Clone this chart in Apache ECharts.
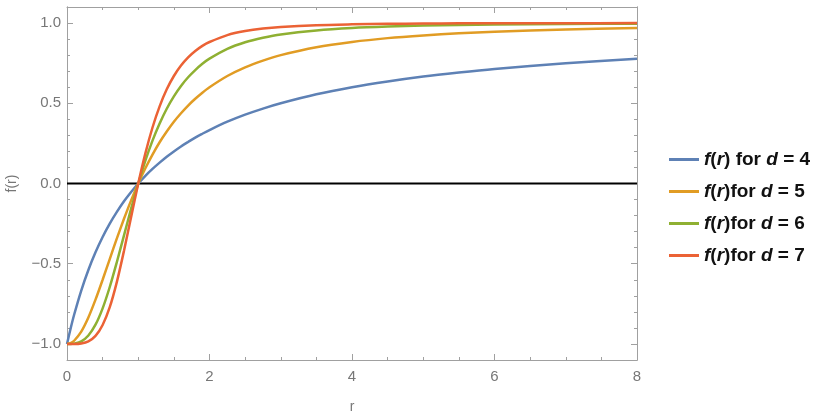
<!DOCTYPE html>
<html>
<head>
<meta charset="utf-8">
<script src="https://cdn.jsdelivr.net/npm/echarts@6/dist/echarts.min.js"></script>
<style>
html, body { margin: 0; padding: 0; background: #fff; }
#chart { width: 830px; height: 418px; }
</style>
</head>
<body>
<div id="chart"></div>
<script>
// r sample points
var rValues = [0, 0.05, 0.1, 0.2, 0.3, 0.4, 0.5, 0.6, 0.7, 0.8, 0.9, 1.0, 1.1, 1.2, 1.3, 1.4, 1.5, 1.6, 1.7, 1.8, 1.9, 2.0,
	2.25, 2.5, 2.75, 3, 3.5, 4, 4.5, 5, 5.5, 6, 7, 8];

var fD4 = [-1, -0.905, -0.818, -0.667, -0.539, -0.429, -0.333, -0.25, -0.177, -0.111, -0.053, 0, 0.048, 0.091, 0.130, 0.167, 0.2, 0.231, 0.259, 0.286, 0.310, 0.333,
	0.385, 0.429, 0.467, 0.5, 0.556, 0.6, 0.636, 0.667, 0.692, 0.714, 0.75, 0.778];
var fD5 = [-1, -0.995, -0.980, -0.923, -0.835, -0.724, -0.6, -0.471, -0.342, -0.220, -0.105, 0, 0.095, 0.180, 0.257, 0.324, 0.385, 0.438, 0.486, 0.528, 0.566, 0.6,
	0.670, 0.724, 0.766, 0.8, 0.849, 0.882, 0.906, 0.923, 0.936, 0.946, 0.96, 0.969];
var fD6 = [-1, -1, -0.998, -0.984, -0.947, -0.880, -0.778, -0.645, -0.489, -0.323, -0.157, 0, 0.142, 0.267, 0.374, 0.466, 0.543, 0.608, 0.662, 0.707, 0.746, 0.778,
	0.839, 0.880, 0.908, 0.929, 0.954, 0.969, 0.978, 0.984, 0.988, 0.991, 0.994, 0.996];
var fD7 = [-1, -1, -1, -0.997, -0.984, -0.950, -0.882, -0.771, -0.613, -0.419, -0.208, 0, 0.188, 0.349, 0.481, 0.587, 0.670, 0.735, 0.786, 0.826, 0.858, 0.882,
	0.925, 0.950, 0.966, 0.976, 0.987, 0.992, 0.995, 0.997, 0.998, 0.999, 0.999, 1.0];

var seriesNames = ['d4', 'd5', 'd6', 'd7'];
var dLabels = ['4', '5', '6', '7'];
var seriesColors = ['#5e81b5', '#e19c24', '#8fb032', '#eb6235'];

var yMajor = [-1, -0.5, 0, 0.5, 1];
var yMinor = [-0.9, -0.8, -0.7, -0.6, -0.4, -0.3, -0.2, -0.1, 0.1, 0.2, 0.3, 0.4, 0.6, 0.7, 0.8, 0.9];

function pairs(ys) {
	return rValues.map(function (r, i) { return [r, ys[i]]; });
}

var frameColor = '#a0a0a0';
var labelColor = '#777';
var tickFont = 'Liberation Sans';

function yAxis(pos, ticks, len, labels) {
	return {
		type: 'value',
		position: pos,
		min: -1.1,
		max: 1.1,
		axisLine: { show: true, onZero: false, lineStyle: { color: frameColor, width: 1 } },
		axisTick: { show: true, inside: true, length: len, customValues: ticks, lineStyle: { color: frameColor } },
		axisLabel: labels ? {
			show: true, customValues: ticks, color: labelColor, fontSize: 15, margin: 6,
			fontFamily: tickFont,
			formatter: function (v) { return v < 0 ? '\u2212' + Math.abs(v).toFixed(1) : v.toFixed(1); }
		} : { show: false },
		splitLine: { show: false }
	};
}

function xAxis(pos, labels) {
	return {
		type: 'value',
		position: pos,
		min: 0,
		max: 8,
		interval: 2,
		axisLine: { show: true, onZero: false, lineStyle: { color: frameColor, width: 1 } },
		axisTick: { show: true, inside: true, length: 6, lineStyle: { color: frameColor } },
		minorTick: { show: true, splitNumber: 4, length: 3, lineStyle: { color: frameColor } },
		axisLabel: labels ? { color: labelColor, fontSize: 15, margin: 9, fontFamily: tickFont } : { show: false },
		splitLine: { show: false }
	};
}

var chart = echarts.init(document.getElementById('chart'));
var allY = [fD4, fD5, fD6, fD7];

var series = allY.map(function (ys, i) {
	return {
		name: seriesNames[i],
		type: 'line',
		data: pairs(ys),
		showSymbol: false,
		smooth: 0.3,
		lineStyle: { color: seriesColors[i], width: 2.5 },
		itemStyle: { color: seriesColors[i] },
		z: 3
	};
});
series.unshift({
	name: 'zero',
	type: 'line',
	data: [[0, 0], [8, 0]],
	showSymbol: false,
	lineStyle: { color: '#000', width: 1.8 },
	silent: true,
	z: 2
});

var bottomAxis = xAxis('bottom', true);
bottomAxis.name = 'r';
bottomAxis.nameLocation = 'middle';
bottomAxis.nameGap = 40;
bottomAxis.nameTextStyle = { color: labelColor, fontSize: 14, fontFamily: tickFont };

var leftAxis = yAxis('left', yMajor, 6, true);
leftAxis.name = 'f(r)';
leftAxis.nameLocation = 'middle';
leftAxis.nameGap = 48;
leftAxis.nameTextStyle = { color: labelColor, fontSize: 14, fontFamily: tickFont };

chart.setOption({
	animation: false,
	grid: { left: 67, right: 193, top: 7, bottom: 58, outerBoundsMode: 'none' },
	legend: {
		orient: 'vertical',
		left: 664,
		top: 145,
		itemWidth: 30,
		itemHeight: 14,
		itemGap: 13,
		data: seriesNames.map(function (n, i) {
			return { name: n, icon: 'path://M0,0 L30,0 L30,3 L0,3 Z', itemStyle: { color: seriesColors[i] } };
		}),
		formatter: function (name) {
			var d = dLabels[seriesNames.indexOf(name)];
			return '{i|f}{n|(}{i|r}{n|)' + (d === '4' ? ' ' : '') + 'for }{i|d}{n| = ' + d + '}';
		},
		textStyle: {
			fontFamily: 'Liberation Sans',
			fontSize: 19,
			fontWeight: 'bold',
			color: '#111',
			rich: {
				i: { fontStyle: 'italic', fontWeight: 'bold', fontSize: 19, color: '#111', fontFamily: 'Liberation Sans' },
				n: { fontWeight: 'bold', fontSize: 19, color: '#111', fontFamily: 'Liberation Sans' }
			}
		}
	},
	xAxis: [bottomAxis, xAxis('top', false)],
	yAxis: [
		leftAxis,
		yAxis('left', yMinor, 3, false),
		yAxis('right', yMajor, 6, false),
		yAxis('right', yMinor, 3, false)
	],
	series: series
});
</script>
</body>
</html>
